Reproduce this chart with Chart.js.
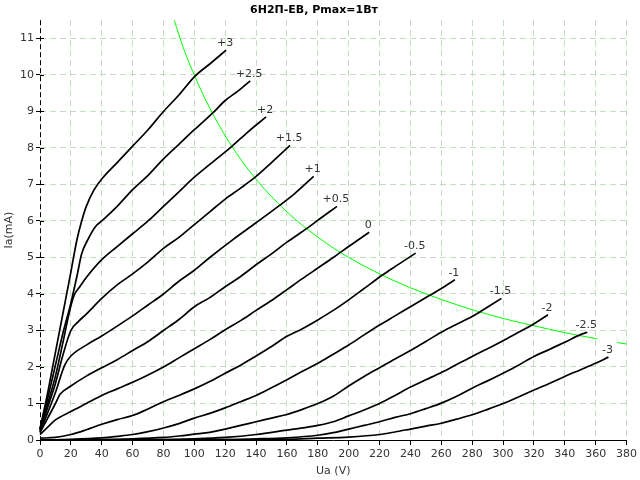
<!DOCTYPE html>
<html>
<head>
<meta charset="utf-8">
<script src="https://cdn.jsdelivr.net/npm/chart.js@4/dist/chart.umd.min.js"></script>
<style>
  html, body { margin: 0; padding: 0; background: #fff; }
  #wrap { width: 640px; height: 480px; }
</style>
</head>
<body>
<div id="wrap"><canvas id="tubeChart" width="640" height="480"></canvas></div>
<script>
// grid voltages (labels at the end of each curve)
const gridLabels = ['+3', '+2.5', '+2', '+1.5', '+1', '+0.5', '0', '-0.5', '-1', '-1.5', '-2', '-2.5', '-3'];

// plate curves, [Ua (V), Ia (mA)]
const curveP3 = [[0,0.3],[5,1.3],[10,2.4],[15,3.5],[20,4.6],[24,5.5],[27,6.0],[30,6.4],[35,6.85],[40,7.15],[50,7.6],[60,8.05],[70,8.5],[80,9.0],[90,9.45],[100,9.95],[110,10.3],[120.6,10.68]];
const curveP25 = [[0,0.3],[5,1.15],[10,2.05],[15,2.95],[20,3.75],[24,4.5],[27,5.1],[31,5.49],[36,5.85],[40,6.0],[50,6.4],[60,6.86],[70,7.25],[80,7.7],[90,8.1],[100,8.5],[112,8.96],[120,9.3],[128,9.55],[136.2,9.84]];
const curveP2 = [[0,0.28],[5,1.0],[10,1.75],[15,2.7],[19,3.5],[22,3.95],[26,4.21],[30,4.45],[40,4.94],[50,5.3],[60,5.65],[70,6.0],[80,6.4],[90,6.8],[100,7.2],[110,7.55],[124.5,8.05],[135,8.45],[146.5,8.85]];
const curveP15 = [[0,0.25],[5,0.9],[10,1.55],[15,2.35],[20,3.0],[25,3.25],[30,3.45],[40,3.88],[50,4.25],[60,4.55],[70,4.88],[80,5.25],[90,5.55],[100,5.9],[110,6.25],[120,6.6],[130,6.9],[140,7.22],[150,7.6],[162,8.07]];
const curveP1 = [[0,0.22],[5,0.75],[10,1.3],[16,2.05],[20,2.3],[30,2.6],[40,2.85],[50,3.12],[60,3.4],[70,3.7],[80,4.0],[90,4.35],[100,4.65],[110,5.0],[125,5.49],[140,5.95],[155,6.42],[165,6.75],[177.3,7.22]];
const curveP05 = [[0,0.2],[5,0.6],[10,1.0],[13,1.25],[20,1.48],[30,1.75],[40,1.98],[50,2.2],[60,2.45],[70,2.7],[80,3.0],[90,3.3],[100,3.65],[110,3.9],[120,4.2],[130,4.48],[140,4.8],[150,5.1],[160,5.42],[173.4,5.81],[180,6.02],[192.4,6.4]];
const curve0 = [[0,0.15],[5,0.35],[10,0.55],[20,0.78],[30,1.0],[40,1.22],[50,1.4],[60,1.58],[70,1.78],[80,2.0],[90,2.25],[100,2.5],[110,2.75],[120,3.02],[130,3.27],[140,3.55],[150,3.82],[160,4.12],[170,4.42],[180,4.71],[190,5.0],[200,5.3],[213.3,5.69]];
const curveM05 = [[0,0.05],[10,0.07],[20,0.15],[30,0.28],[40,0.43],[50,0.56],[60,0.67],[70,0.85],[80,1.05],[90,1.22],[100,1.4],[110,1.6],[120,1.83],[130,2.05],[140,2.3],[150,2.56],[160,2.84],[170,3.05],[180,3.29],[190,3.55],[200,3.84],[210,4.15],[221.9,4.52],[230,4.75],[243.4,5.12]];
const curveM1 = [[0,0],[20,0.02],[40,0.06],[50,0.1],[60,0.15],[70,0.23],[80,0.33],[90,0.45],[100,0.6],[110,0.73],[120,0.88],[130,1.05],[140,1.22],[150,1.43],[160,1.65],[170,1.88],[180,2.1],[190,2.35],[200,2.6],[210,2.88],[220,3.15],[230,3.4],[240,3.65],[252,3.95],[260,4.15],[268.8,4.39]];
const curveM15 = [[0,0],[40,0.01],[60,0.03],[80,0.07],[90,0.11],[100,0.16],[110,0.21],[120,0.3],[130,0.4],[140,0.5],[150,0.6],[160,0.7],[170,0.84],[180,1.0],[190,1.2],[200,1.48],[210,1.74],[220,1.98],[230,2.22],[240,2.45],[250,2.7],[260,2.95],[270,3.17],[280,3.38],[285.4,3.52],[299,3.88]];
const curveM2 = [[0,0],[80,0.01],[100,0.03],[120,0.07],[140,0.15],[160,0.27],[170,0.33],[180,0.4],[190,0.5],[200,0.66],[210,0.82],[220,1.0],[230,1.22],[240,1.45],[250,1.65],[260,1.85],[270,2.07],[280,2.29],[290,2.5],[300,2.72],[310,2.95],[318.8,3.15],[329.1,3.43]];
const curveM25 = [[0,0],[120,0.01],[140,0.03],[160,0.06],[180,0.13],[190,0.2],[200,0.3],[210,0.4],[220,0.5],[230,0.62],[240,0.72],[250,0.86],[260,1.01],[270,1.2],[280,1.42],[290,1.62],[300,1.83],[310,2.05],[320,2.29],[330,2.48],[340,2.68],[351,2.9],[354.6,2.95]];
const curveM3 = [[0,0],[140,0.01],[160,0.02],[180,0.05],[200,0.08],[220,0.15],[230,0.22],[240,0.3],[250,0.38],[260,0.46],[270,0.57],[280,0.69],[290,0.84],[300,1.0],[310,1.18],[320,1.37],[330,1.55],[340,1.74],[350,1.92],[360,2.1],[368.3,2.27]];

// Pmax = 1 W limit line (gap near the right end as in the original)
const pmaxUa = [87, 90, 95, 100, 105, 110, 115, 120, 125, 130, 140, 150, 160, 170, 180, 190, 200, 220, 240, 260, 280, 300, 320, 340, 361, 367, 374, 380];
const pmaxIa = [11.5, 11.1, 10.5, 10, 9.52, 9.09, 8.7, 8.33, 8, 7.69, 7.14, 6.67, 6.25, 5.88, 5.56, 5.26, 5, 4.55, 4.17, 3.85, 3.57, 3.33, 3.13, 2.94, 2.77, null, 2.67, 2.63];

const curves = [curveP3, curveP25, curveP2, curveP15, curveP1, curveP05, curve0, curveM05, curveM1, curveM15, curveM2, curveM25, curveM3];

Chart.defaults.font.family = '"DejaVu Sans", sans-serif';
Chart.defaults.font.size = 11;
Chart.defaults.color = '#333';

const gridGreen = '#c2dcc2';

const datasets = curves.map((c, i) => ({
    tag: gridLabels[i],
    data: c.map(p => ({ x: p[0], y: p[1] })),
    borderColor: '#000',
    borderWidth: 1.7,
    pointRadius: 0,
    cubicInterpolationMode: 'monotone',
    clip: false,
    fill: false
}));

datasets.push({
    data: pmaxUa.map((u, i) => ({ x: u, y: pmaxIa[i] })),
    borderColor: '#00ff00',
    borderWidth: 1,
    pointRadius: 0,
    cubicInterpolationMode: 'monotone',
    spanGaps: false,
    fill: false
});

// draws the grid voltage next to the end of every curve
const curveLabels = {
    id: 'curveLabels',
    afterDatasetsDraw(chart) {
        const ctx = chart.ctx;
        const xs = chart.scales.x, ys = chart.scales.y;
        ctx.save();
        ctx.font = '11px "DejaVu Sans"';
        ctx.fillStyle = '#333';
        ctx.textAlign = 'center';
        ctx.textBaseline = 'alphabetic';
        chart.data.datasets.forEach(ds => {
            if (!ds.tag) return;
            const p = ds.data[ds.data.length - 1];
            ctx.fillText(ds.tag, xs.getPixelForValue(p.x) - 1, ys.getPixelForValue(p.y) - 4);
        });
        ctx.restore();
    }
};

// short tick marks on the inner side of the Ia axis
const innerTicks = {
    id: 'innerTicks',
    afterDraw(chart) {
        const ctx = chart.ctx;
        const ys = chart.scales.y;
        const x0 = chart.chartArea.left;
        ctx.save();
        ctx.strokeStyle = '#000';
        ctx.lineWidth = 1;
        ctx.beginPath();
        ys.ticks.forEach(t => {
            if (t.value === 0) return;
            const y = Math.round(ys.getPixelForValue(t.value)) + 0.5;
            ctx.moveTo(x0, y);
            ctx.lineTo(x0 + 4, y);
        });
        ctx.stroke();
        ctx.restore();
    }
};

new Chart(document.getElementById('tubeChart'), {
    type: 'line',
    data: { datasets: datasets },
    plugins: [curveLabels, innerTicks],
    options: {
        responsive: false,
        animation: false,
        layout: { padding: { top: 0, right: 12, bottom: 0, left: 0 } },
        plugins: {
            legend: { display: false },
            tooltip: { enabled: false },
            title: {
                display: true,
                text: '6Н2П-ЕВ, Pmax=1Вт',
                color: '#000',
                font: { size: 11, weight: 'bold' },
                padding: { top: 4, bottom: 3 }
            }
        },
        scales: {
            x: {
                type: 'linear',
                min: 0,
                max: 380,
                afterFit: s => { s.height = 40; },
                ticks: { stepSize: 20, padding: 3, color: '#333' },
                grid: {
                    color: c => c.tick && c.tick.value === 0 ? '#000' : gridGreen,
                    tickColor: '#000',
                    tickLength: 5
                },
                border: {
                    display: true,
                    color: '#000',
                    width: 1,
                    dash: c => c.tick && c.tick.value === 0 ? [5, 3] : [6, 4]
                },
                title: { display: true, text: 'Ua (V)', color: '#333', padding: { top: 0, bottom: 2 } }
            },
            y: {
                min: 0,
                max: 11.5,
                afterFit: s => { s.width = 40; },
                ticks: { stepSize: 1, padding: 2, includeBounds: false, color: '#333' },
                grid: {
                    color: c => c.tick && c.tick.value === 0 ? 'rgba(0,0,0,0)' : gridGreen,
                    tickColor: '#000',
                    tickLength: 4
                },
                border: { display: false, dash: [6, 4] },
                title: { display: true, text: 'Ia(mA)', color: '#333', padding: { top: 3, bottom: 0 } }
            }
        }
    }
});
</script>
</body>
</html>
